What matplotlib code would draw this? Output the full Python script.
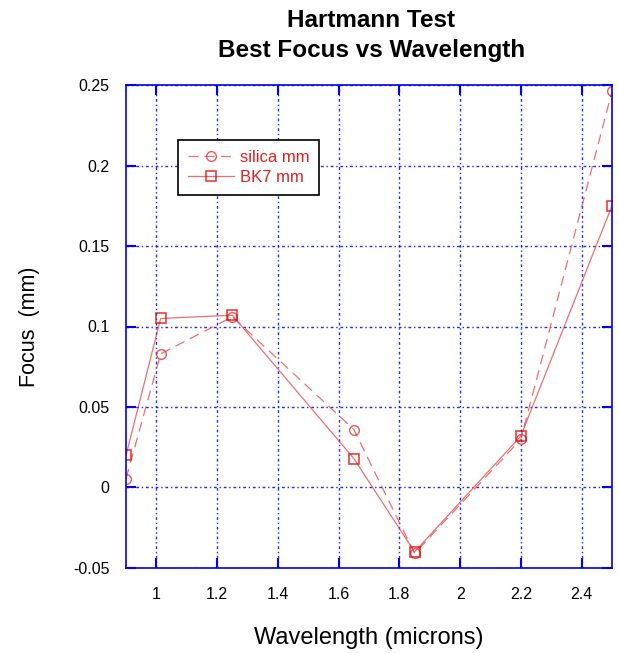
import matplotlib
matplotlib.use("Agg")
import matplotlib.pyplot as plt

plt.rcParams['font.family'] = ['Liberation Sans', 'DejaVu Sans']

wavelength = [0.9, 1.014, 1.25, 1.65, 1.85, 2.2, 2.5]
silica_mm = [0.0055, 0.083, 0.106, 0.036, -0.041, 0.030, 0.246]
bk7_mm = [0.020, 0.105, 0.107, 0.018, -0.040, 0.032, 0.175]
xticks = [1, 1.2, 1.4, 1.6, 1.8, 2, 2.2, 2.4]
yticks = [-0.05, 0, 0.05, 0.1, 0.15, 0.2, 0.25]

fig = plt.figure(figsize=(6.19, 6.53), dpi=100)
ax = fig.add_axes([0.2036, 0.1302, 0.7851, 0.7396])

ax.plot(wavelength, silica_mm, color='#e84040', lw=0.9, ls=(0, (8, 5)), alpha=0.75,
        marker='o', ms=7, mfc='none', mec='#e82020', mew=1.0, label='silica mm')
ax.plot(wavelength, bk7_mm, color='#e84040', lw=0.9, alpha=0.75,
        marker='s', ms=7, mfc='none', mec='#e00000', mew=1.2, label='BK7 mm')

ax.set_xlim(0.9, 2.5)
ax.set_ylim(-0.05, 0.25)
ax.set_xticks(xticks)
ax.set_xticklabels(['1', '1.2', '1.4', '1.6', '1.8', '2', '2.2', '2.4'])
ax.set_yticks(yticks)
ax.set_yticklabels(['-0.05', '0', '0.05', '0.1', '0.15', '0.2', '0.25'])
ax.grid(True, color='#0000ff', ls=(0, (2, 2, 1, 2)), lw=1.0, alpha=0.85)
for s in ax.spines.values():
    s.set_color('#0000ff')
    s.set_linewidth(1.2)
ax.tick_params(direction='in', color='#0000ff', length=7, width=1.5,
               labelsize=11.5, labelcolor='black', top=True, right=True)
ax.tick_params(axis='x', pad=14)
ax.tick_params(axis='y', pad=12)

ax.set_xlabel('Wavelength (microns)', fontsize=17, labelpad=18)
ax.set_ylabel('Focus  (mm)', fontsize=15.5, labelpad=24)
fig.suptitle('Hartmann Test\nBest Focus vs Wavelength', fontsize=17.5, fontweight='bold',
             x=0.6, y=0.986, linespacing=1.4)

leg = ax.legend(loc='upper left', bbox_to_anchor=(0.107, 0.886), fontsize=12,
                fancybox=False, edgecolor='black', framealpha=1, labelcolor='#e02020',
                handlelength=2.75, handletextpad=0.35, borderpad=0.6,
                labelspacing=0.3, borderaxespad=0)
leg.get_frame().set_linewidth(1.2)

fig.savefig('out.png', dpi=100)
